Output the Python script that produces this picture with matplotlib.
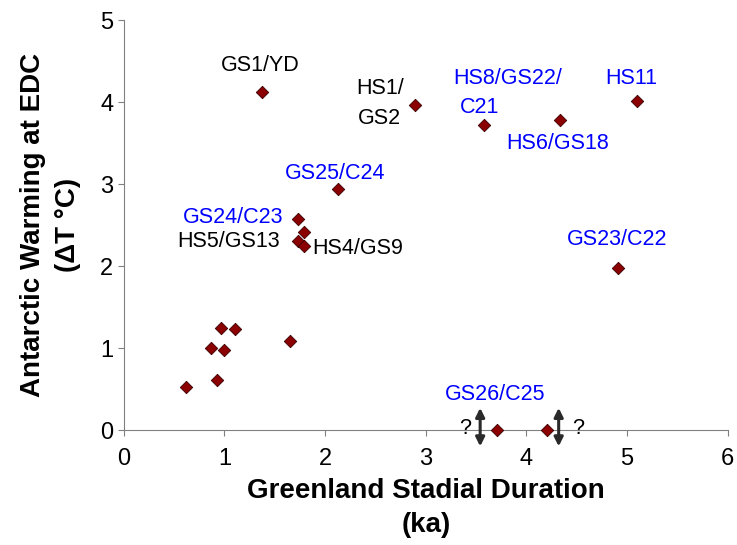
import matplotlib.pyplot as plt

plt.rcParams['font.family'] = ['Liberation Sans', 'DejaVu Sans']

# duracao do estadial (ka) e aquecimento antartico (dT)
duracao = [0.62, 0.93, 0.87, 1.00, 0.97, 1.10, 1.65,
           1.37, 2.89, 3.58, 4.33, 5.10, 4.91,
           2.13, 1.73, 1.79, 1.73, 1.79, 3.71, 4.20]
aquecimento = [0.53, 0.61, 1.00, 0.98, 1.25, 1.23, 1.09,
               4.12, 3.96, 3.72, 3.78, 4.01, 1.98,
               2.94, 2.58, 2.41, 2.31, 2.24, 0.0, 0.0]

# rotulos: (texto, x, y, cor, alinhamento)
rotulos = [
    ('GS1/YD', 1.36, 4.45, 'black', 'center'),
    ('HS1/', 2.78, 4.17, 'black', 'right'),
    ('GS2', 2.75, 3.80, 'black', 'right'),
    ('HS8/GS22/', 3.81, 4.29, 'blue', 'center'),
    ('C21', 3.53, 3.94, 'blue', 'center'),
    ('HS11', 5.04, 4.29, 'blue', 'center'),
    ('HS6/GS18', 4.31, 3.49, 'blue', 'center'),
    ('GS25/C24', 2.10, 3.13, 'blue', 'center'),
    ('GS24/C23', 1.09, 2.59, 'blue', 'center'),
    ('HS5/GS13', 1.04, 2.30, 'black', 'center'),
    ('HS4/GS9', 2.32, 2.22, 'black', 'center'),
    ('GS23/C22', 4.90, 2.32, 'blue', 'center'),
    ('GS26/C25', 3.69, 0.43, 'blue', 'center'),
    ('?', 3.39, 0.02, 'black', 'center'),
    ('?', 4.51, 0.02, 'black', 'center'),
]
setas_x = [3.54, 4.32]

fig = plt.figure(figsize=(7.37, 5.45), dpi=100)
ax = fig.add_axes([0.168, 0.211, 0.8195, 0.752])

ax.scatter(duracao, aquecimento, marker='D', s=40, color='#8b0000',
           edgecolors='#3a0000', linewidths=0.6, zorder=3, clip_on=False)

for texto, x, y, cor, ha in rotulos:
    ax.text(x, y, texto, color=cor, ha=ha, va='center', fontsize=15.5)

for x in setas_x:
    ax.annotate('', xy=(x, 0.27), xytext=(x, -0.2),
                arrowprops=dict(arrowstyle='<|-|>', color='#2a2a2a', lw=2.2,
                                mutation_scale=13, shrinkA=0, shrinkB=0),
                annotation_clip=False)

ax.set_xlim(0, 6)
ax.set_ylim(0, 5)
ax.set_xticks(range(7))
ax.set_yticks(range(6))
ax.tick_params(labelsize=17, length=4, color='#808080', direction='out')
ax.tick_params(axis='x', pad=9)
for lado in ['top', 'right']:
    ax.spines[lado].set_visible(False)
for lado in ['left', 'bottom']:
    ax.spines[lado].set_color('#808080')

ax.set_xlabel('Greenland Stadial Duration\n(ka)', fontsize=20, fontweight='bold',
              labelpad=6, linespacing=1.4)
ax.set_ylabel('Antarctic Warming at EDC\n(ΔT °C)', fontsize=20, fontweight='bold',
              labelpad=14, linespacing=1.45)

plt.savefig('out.png', dpi=100)
